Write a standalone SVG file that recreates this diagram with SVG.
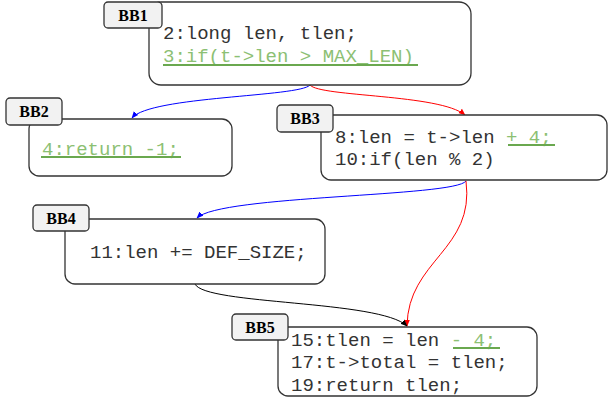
<svg xmlns="http://www.w3.org/2000/svg" width="608" height="403" viewBox="0 0 608 403">
<style>
.box{fill:#fff;stroke:#333;stroke-width:1.3}
.lab{fill:#f2f2f2;stroke:#333;stroke-width:1.3}
.lt{font-family:"Liberation Serif","Times New Roman",serif;font-weight:bold;font-size:16px;fill:#000;text-anchor:middle}
.code{font-family:"Liberation Mono","Courier New",monospace;font-size:19px;fill:#333}
.g{fill:#8cc073}
.ul{stroke:#6aa84f;stroke-width:2}
.e{fill:none;stroke-width:1}
</style>
<defs>
<marker id="ab" viewBox="0 0 10 10" refX="9" refY="5" markerWidth="7" markerHeight="7" orient="auto-start-reverse"><path d="M0,1 L10,5 L0,9 z" fill="#0000ff"/></marker>
<marker id="ar" viewBox="0 0 10 10" refX="9" refY="5" markerWidth="7" markerHeight="7" orient="auto-start-reverse"><path d="M0,1 L10,5 L0,9 z" fill="#ff0000"/></marker>
<marker id="ak" viewBox="0 0 10 10" refX="9" refY="5" markerWidth="7" markerHeight="7" orient="auto-start-reverse"><path d="M0,1 L10,5 L0,9 z" fill="#000"/></marker>
</defs>
<g id="edges">
<path class="e" stroke="#0000ff" d="M310,85 C300,97 150,96 132,118" marker-end="url(#ab)"/>
<path class="e" stroke="#ff0000" d="M310,85 C320,97 440,94 465,115" marker-end="url(#ar)"/>
<path class="e" stroke="#0000ff" d="M466,181 C455,197 220,195 197,218" marker-end="url(#ab)"/>
<path class="e" stroke="#ff0000" d="M466,181 C475,250 408,260 407,326" marker-end="url(#ar)"/>
<path class="e" stroke="#000" d="M195,284 C205,305 380,300 407,326" marker-end="url(#ak)"/>
</g>
<g id="BB1">
<rect class="box" x="149" y="2" width="322" height="83" rx="12"/>
<rect class="lab" x="104" y="2" width="58" height="26" rx="4"/>
<text class="lt" x="133" y="21">BB1</text>
<text class="code" x="163" y="39">2:long len, tlen;</text>
<text class="code g" x="163" y="62">3:if(t-&gt;len &gt; MAX_LEN)</text>
<line class="ul" x1="163" y1="65" x2="418" y2="65"/>
</g>
<g id="BB2">
<rect class="box" x="29" y="119" width="203" height="57" rx="10"/>
<rect class="lab" x="6" y="98" width="56" height="27" rx="4"/>
<text class="lt" x="34" y="117">BB2</text>
<text class="code g" x="42" y="155">4:return -1;</text>
<line class="ul" x1="41" y1="157" x2="181" y2="157"/>
</g>
<g id="BB3">
<rect class="box" x="321" y="115" width="286" height="65" rx="10"/>
<rect class="lab" x="277" y="105" width="56" height="27" rx="4"/>
<text class="lt" x="305" y="124">BB3</text>
<text class="code" x="335" y="143">8:len = t-&gt;len <tspan class="g">+ 4;</tspan></text>
<line class="ul" x1="508" y1="145" x2="555" y2="145"/>
<text class="code" x="335" y="165">10:if(len % 2)</text>
</g>
<g id="BB4">
<rect class="box" x="65" y="219" width="260" height="65" rx="10"/>
<rect class="lab" x="33" y="205" width="56" height="26" rx="4"/>
<text class="lt" x="61" y="224">BB4</text>
<text class="code" x="90" y="258">11:len += DEF_SIZE;</text>
</g>
<g id="BB5">
<rect class="box" x="278" y="327" width="259" height="69" rx="10"/>
<rect class="lab" x="232" y="314" width="56" height="26" rx="4"/>
<text class="lt" x="260" y="333">BB5</text>
<text class="code" x="291" y="346">15:tlen = len <tspan class="g">- 4;</tspan></text>
<line class="ul" x1="453" y1="348" x2="500" y2="348"/>
<text class="code" x="291" y="368">17:t-&gt;total = tlen;</text>
<text class="code" x="291" y="391">19:return tlen;</text>
</g>
</svg>
